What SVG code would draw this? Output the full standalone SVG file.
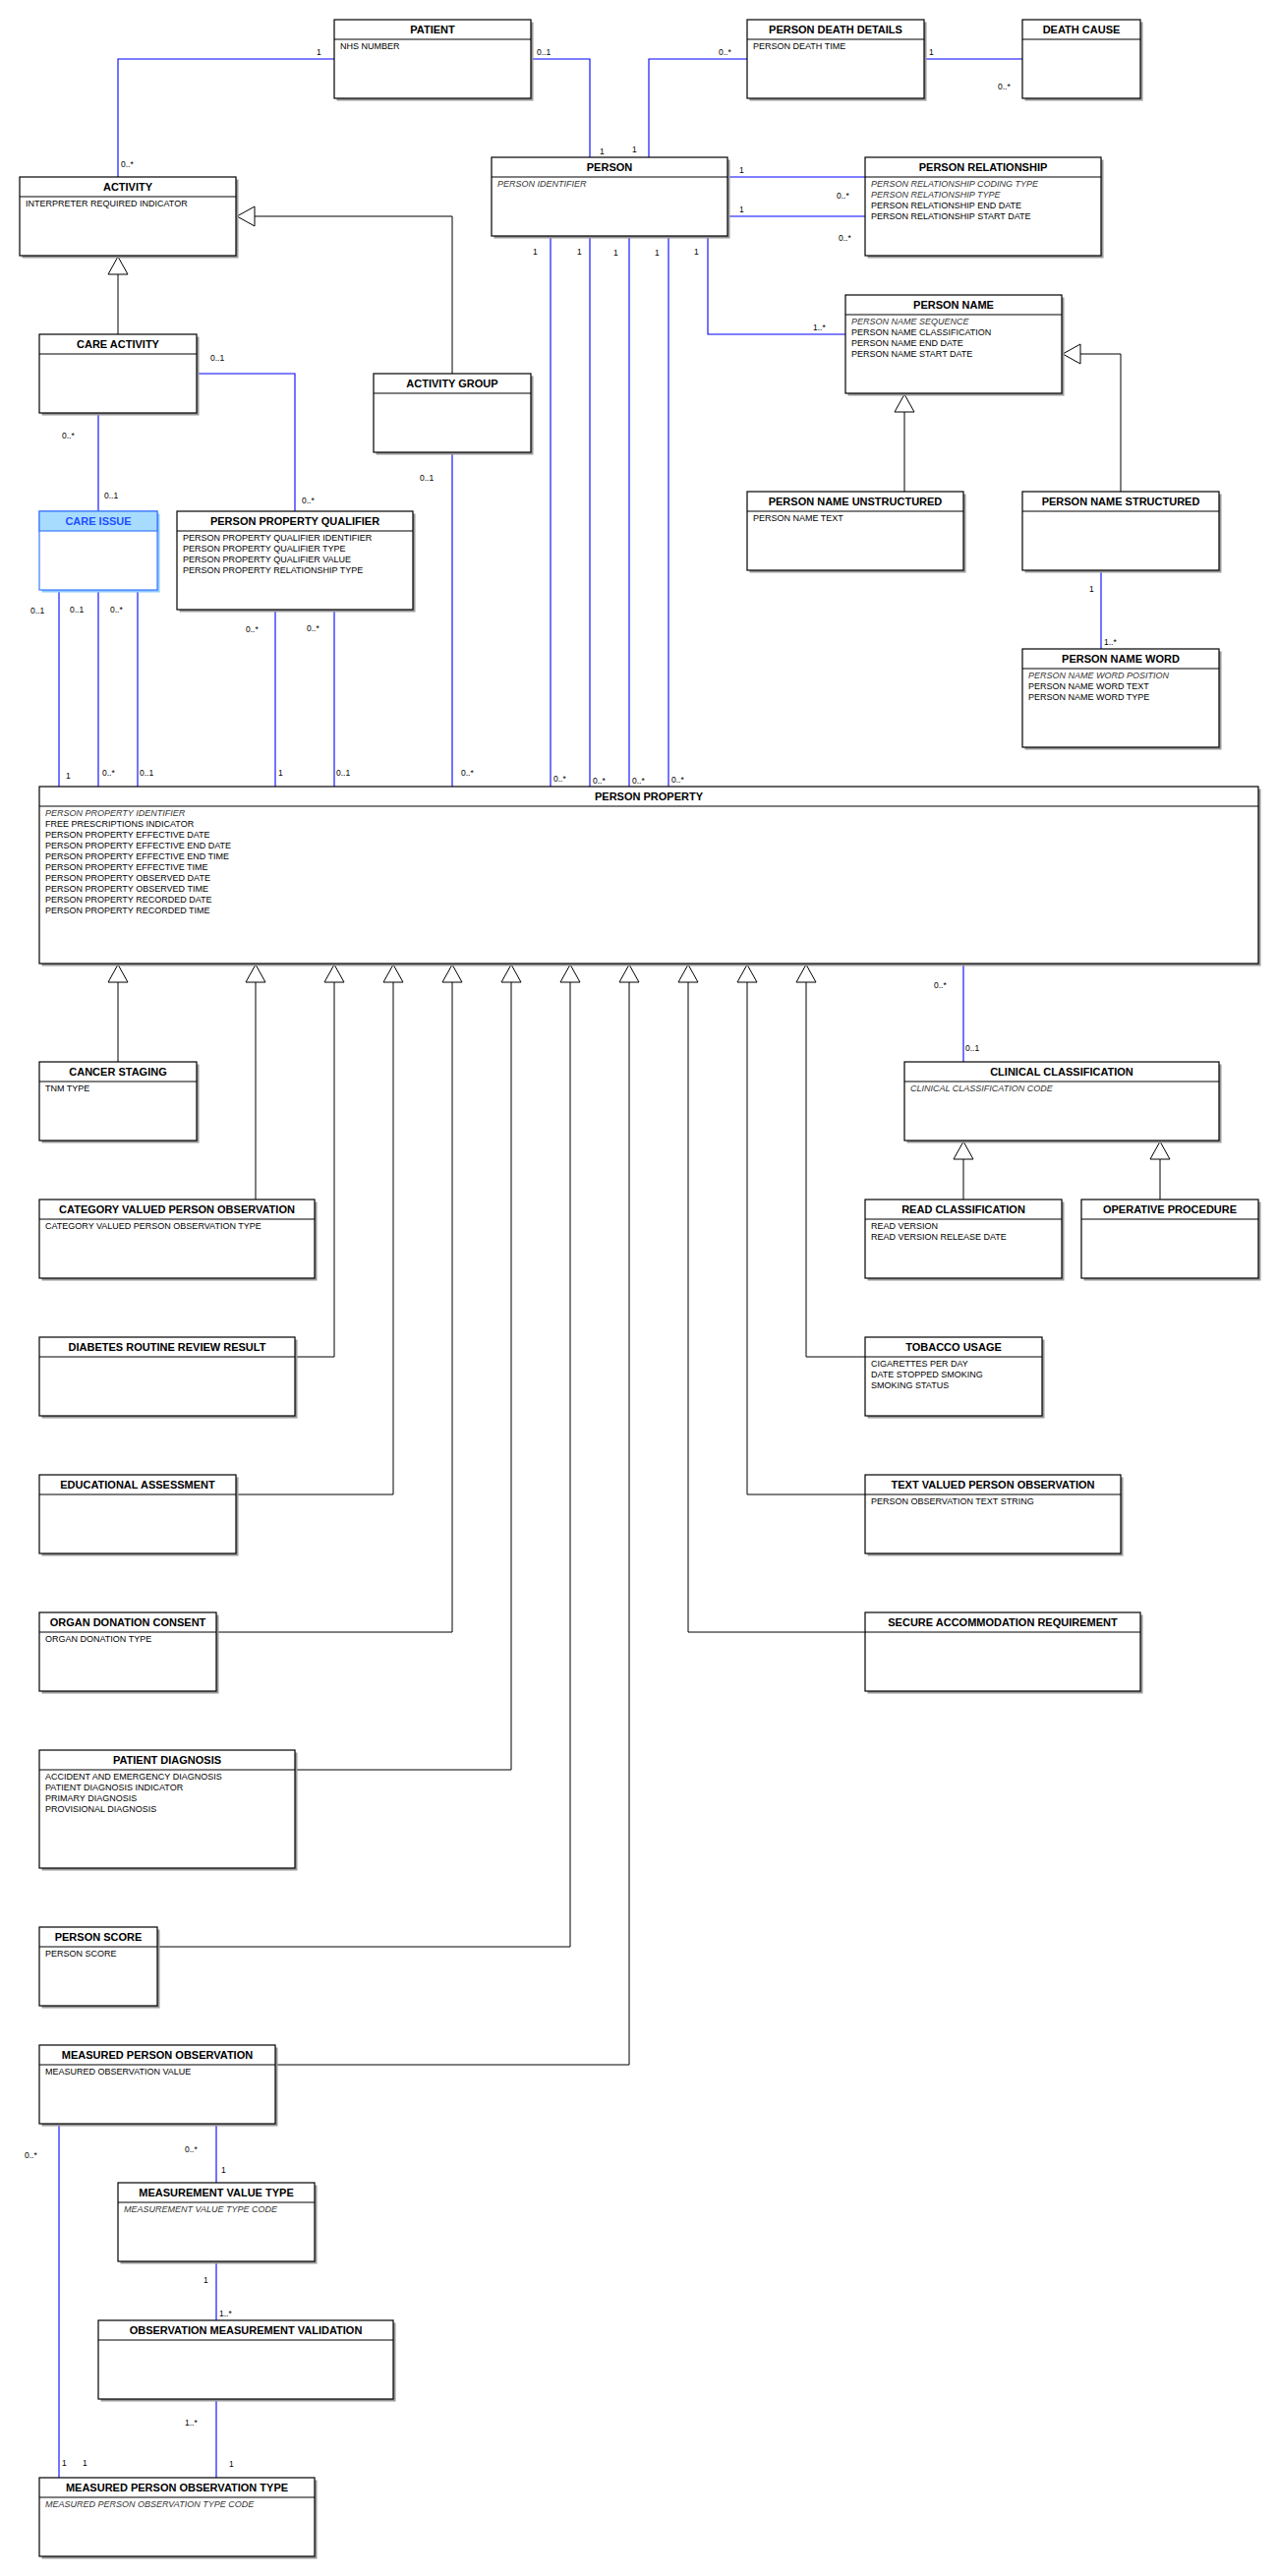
<svg xmlns="http://www.w3.org/2000/svg" width="1300" height="2620" viewBox="0 0 1300 2620">
<style>
  text { font-family: "Liberation Sans", Arial, sans-serif; }
  .sh { fill: #9a9a9a; stroke: none; }
  .bx { fill: #ffffff; stroke: #000000; stroke-width: 1.2; }
  .dv { stroke: #000000; stroke-width: 1.2; }
  .t { font-size: 11px; font-weight: bold; text-anchor: middle; fill: #000; }
  .a { font-size: 9px; fill: #000; }
  .i { font-style: italic; fill: #333; }
  .assoc { stroke: #0000ff; stroke-width: 1.1; fill: none; }
  .gen { stroke: #000; stroke-width: 1; fill: none; marker-end: url(#tri); }
  .lbl { font-size: 8.5px; fill: #000; }
  .ci .sh { fill: #8cc8ff; }
  .ci .bx { fill: #ffffff; stroke: #3a78ff; }
  .ci .hd { fill: #a8dcff; stroke: #3a78ff; stroke-width: 1.2; }
  .ci .t { fill: #1e50ff; }
</style>
<defs>
  <marker id="tri" markerUnits="userSpaceOnUse" markerWidth="22" markerHeight="24" viewBox="-1 -11 22 22" refX="19" refY="0" orient="auto">
    <path d="M1,-10 L19,0 L1,10 Z" fill="#fff" stroke="#000" stroke-width="1"/>
  </marker>
</defs>
<rect x="0" y="0" width="1300" height="2620" fill="#ffffff"/>

<g id="connectors">
  <!-- associations -->
  <path class="assoc" d="M340,60 H120 V180"/>
  <path class="assoc" d="M541,60 H600 V160"/>
  <path class="assoc" d="M660,160 V60 H760"/>
  <path class="assoc" d="M941,60 H1040"/>
  <path class="assoc" d="M741,180 H880"/>
  <path class="assoc" d="M741,220 H880"/>
  <path class="assoc" d="M720,241 V340 H860"/>
  <path class="assoc" d="M560,241 V800"/>
  <path class="assoc" d="M600,241 V800"/>
  <path class="assoc" d="M640,241 V800"/>
  <path class="assoc" d="M680,241 V800"/>
  <path class="assoc" d="M100,421 V520"/>
  <path class="assoc" d="M201,380 H300 V520"/>
  <path class="assoc" d="M460,461 V800"/>
  <path class="assoc" d="M60,601 V800"/>
  <path class="assoc" d="M100,601 V800"/>
  <path class="assoc" d="M140,601 V800"/>
  <path class="assoc" d="M280,621 V800"/>
  <path class="assoc" d="M340,621 V800"/>
  <path class="assoc" d="M1120,581 V660"/>
  <path class="assoc" d="M980,981 V1080"/>
  <path class="assoc" d="M220,2161 V2220"/>
  <path class="assoc" d="M220,2301 V2360"/>
  <path class="assoc" d="M220,2441 V2520"/>
  <path class="assoc" d="M60,2161 V2520"/>
  <!-- generalizations -->
  <path class="gen" d="M460,380 V220 H241"/>
  <path class="gen" d="M120,340 V261"/>
  <path class="gen" d="M920,500 V401"/>
  <path class="gen" d="M1140,500 V360 H1081"/>
  <path class="gen" d="M120,1080 V981"/>
  <path class="gen" d="M260,1220 V981"/>
  <path class="gen" d="M300,1380 H340 V981"/>
  <path class="gen" d="M240,1520 H400 V981"/>
  <path class="gen" d="M220,1660 H460 V981"/>
  <path class="gen" d="M300,1800 H520 V981"/>
  <path class="gen" d="M160,1980 H580 V981"/>
  <path class="gen" d="M280,2100 H640 V981"/>
  <path class="gen" d="M880,1660 H700 V981"/>
  <path class="gen" d="M880,1520 H760 V981"/>
  <path class="gen" d="M880,1380 H820 V981"/>
  <path class="gen" d="M980,1220 V1161"/>
  <path class="gen" d="M1180,1220 V1161"/>
  <!-- multiplicities -->
  <text class="lbl" x="322" y="56">1</text>
  <text class="lbl" x="123" y="170">0..*</text>
  <text class="lbl" x="546" y="56">0..1</text>
  <text class="lbl" x="610" y="157">1</text>
  <text class="lbl" x="643" y="155">1</text>
  <text class="lbl" x="731" y="56">0..*</text>
  <text class="lbl" x="945" y="56">1</text>
  <text class="lbl" x="1015" y="91">0..*</text>
  <text class="lbl" x="752" y="176">1</text>
  <text class="lbl" x="851" y="202">0..*</text>
  <text class="lbl" x="752" y="216">1</text>
  <text class="lbl" x="853" y="245">0..*</text>
  <text class="lbl" x="706" y="259">1</text>
  <text class="lbl" x="827" y="336">1..*</text>
  <text class="lbl" x="542" y="259">1</text>
  <text class="lbl" x="587" y="259">1</text>
  <text class="lbl" x="624" y="260">1</text>
  <text class="lbl" x="666" y="260">1</text>
  <text class="lbl" x="563" y="795">0..*</text>
  <text class="lbl" x="603" y="797">0..*</text>
  <text class="lbl" x="643" y="797">0..*</text>
  <text class="lbl" x="683" y="796">0..*</text>
  <text class="lbl" x="63" y="446">0..*</text>
  <text class="lbl" x="106" y="507">0..1</text>
  <text class="lbl" x="214" y="367">0..1</text>
  <text class="lbl" x="307" y="512">0..*</text>
  <text class="lbl" x="427" y="489">0..1</text>
  <text class="lbl" x="469" y="789">0..*</text>
  <text class="lbl" x="31" y="624">0..1</text>
  <text class="lbl" x="71" y="623">0..1</text>
  <text class="lbl" x="112" y="623">0..*</text>
  <text class="lbl" x="67" y="792">1</text>
  <text class="lbl" x="104" y="789">0..*</text>
  <text class="lbl" x="142" y="789">0..1</text>
  <text class="lbl" x="250" y="643">0..*</text>
  <text class="lbl" x="312" y="642">0..*</text>
  <text class="lbl" x="283" y="789">1</text>
  <text class="lbl" x="342" y="789">0..1</text>
  <text class="lbl" x="1108" y="602">1</text>
  <text class="lbl" x="1123" y="656">1..*</text>
  <text class="lbl" x="950" y="1005">0..*</text>
  <text class="lbl" x="982" y="1069">0..1</text>
  <text class="lbl" x="188" y="2189">0..*</text>
  <text class="lbl" x="225" y="2210">1</text>
  <text class="lbl" x="207" y="2322">1</text>
  <text class="lbl" x="223" y="2356">1..*</text>
  <text class="lbl" x="188" y="2467">1..*</text>
  <text class="lbl" x="233" y="2509">1</text>
  <text class="lbl" x="25" y="2195">0..*</text>
  <text class="lbl" x="63" y="2508">1</text>
  <text class="lbl" x="84" y="2508">1</text>
</g>

<g id="patient"><rect class="sh" x="342.5" y="22.5" width="200" height="80"/><rect class="bx" x="340" y="20" width="200" height="80"/><line class="dv" x1="340" y1="40" x2="540" y2="40"/><text class="t" x="440" y="34">PATIENT</text><text class="a" x="346" y="50">NHS NUMBER</text></g>

<g id="person-death-details"><rect class="sh" x="762.5" y="22.5" width="180" height="80"/><rect class="bx" x="760" y="20" width="180" height="80"/><line class="dv" x1="760" y1="40" x2="940" y2="40"/><text class="t" x="850" y="34">PERSON DEATH DETAILS</text><text class="a" x="766" y="50">PERSON DEATH TIME</text></g>

<g id="death-cause"><rect class="sh" x="1042.5" y="22.5" width="120" height="80"/><rect class="bx" x="1040" y="20" width="120" height="80"/><line class="dv" x1="1040" y1="40" x2="1160" y2="40"/><text class="t" x="1100" y="34">DEATH CAUSE</text></g>

<g id="activity"><rect class="sh" x="22.5" y="182.5" width="220" height="80"/><rect class="bx" x="20" y="180" width="220" height="80"/><line class="dv" x1="20" y1="200" x2="240" y2="200"/><text class="t" x="130" y="194">ACTIVITY</text><text class="a" x="26" y="210">INTERPRETER REQUIRED INDICATOR</text></g>

<g id="person"><rect class="sh" x="502.5" y="162.5" width="240" height="80"/><rect class="bx" x="500" y="160" width="240" height="80"/><line class="dv" x1="500" y1="180" x2="740" y2="180"/><text class="t" x="620" y="174">PERSON</text><text class="a i" x="506" y="190">PERSON IDENTIFIER</text></g>

<g id="person-relationship"><rect class="sh" x="882.5" y="162.5" width="240" height="100"/><rect class="bx" x="880" y="160" width="240" height="100"/><line class="dv" x1="880" y1="180" x2="1120" y2="180"/><text class="t" x="1000" y="174">PERSON RELATIONSHIP</text><text class="a i" x="886" y="190">PERSON RELATIONSHIP CODING TYPE</text><text class="a i" x="886" y="201">PERSON RELATIONSHIP TYPE</text><text class="a" x="886" y="212">PERSON RELATIONSHIP END DATE</text><text class="a" x="886" y="223">PERSON RELATIONSHIP START DATE</text></g>

<g id="care-activity"><rect class="sh" x="42.5" y="342.5" width="160" height="80"/><rect class="bx" x="40" y="340" width="160" height="80"/><line class="dv" x1="40" y1="360" x2="200" y2="360"/><text class="t" x="120" y="354">CARE ACTIVITY</text></g>

<g id="activity-group"><rect class="sh" x="382.5" y="382.5" width="160" height="80"/><rect class="bx" x="380" y="380" width="160" height="80"/><line class="dv" x1="380" y1="400" x2="540" y2="400"/><text class="t" x="460" y="394">ACTIVITY GROUP</text></g>

<g id="person-name"><rect class="sh" x="862.5" y="302.5" width="220" height="100"/><rect class="bx" x="860" y="300" width="220" height="100"/><line class="dv" x1="860" y1="320" x2="1080" y2="320"/><text class="t" x="970" y="314">PERSON NAME</text><text class="a i" x="866" y="330">PERSON NAME SEQUENCE</text><text class="a" x="866" y="341">PERSON NAME CLASSIFICATION</text><text class="a" x="866" y="352">PERSON NAME END DATE</text><text class="a" x="866" y="363">PERSON NAME START DATE</text></g>

<g id="person-name-unstructured"><rect class="sh" x="762.5" y="502.5" width="220" height="80"/><rect class="bx" x="760" y="500" width="220" height="80"/><line class="dv" x1="760" y1="520" x2="980" y2="520"/><text class="t" x="870" y="514">PERSON NAME UNSTRUCTURED</text><text class="a" x="766" y="530">PERSON NAME TEXT</text></g>

<g id="person-name-structured"><rect class="sh" x="1042.5" y="502.5" width="200" height="80"/><rect class="bx" x="1040" y="500" width="200" height="80"/><line class="dv" x1="1040" y1="520" x2="1240" y2="520"/><text class="t" x="1140" y="514">PERSON NAME STRUCTURED</text></g>

<g id="person-name-word"><rect class="sh" x="1042.5" y="662.5" width="200" height="100"/><rect class="bx" x="1040" y="660" width="200" height="100"/><line class="dv" x1="1040" y1="680" x2="1240" y2="680"/><text class="t" x="1140" y="674">PERSON NAME WORD</text><text class="a i" x="1046" y="690">PERSON NAME WORD POSITION</text><text class="a" x="1046" y="701">PERSON NAME WORD TEXT</text><text class="a" x="1046" y="712">PERSON NAME WORD TYPE</text></g>

<g id="care-issue" class="ci"><rect class="sh" x="42.5" y="522.5" width="120" height="80"/><rect class="bx" x="40" y="520" width="120" height="80"/><rect class="hd" x="40" y="520" width="120" height="20"/><text class="t" x="100" y="534">CARE ISSUE</text></g>

<g id="person-property-qualifier"><rect class="sh" x="182.5" y="522.5" width="240" height="100"/><rect class="bx" x="180" y="520" width="240" height="100"/><line class="dv" x1="180" y1="540" x2="420" y2="540"/><text class="t" x="300" y="534">PERSON PROPERTY QUALIFIER</text><text class="a" x="186" y="550">PERSON PROPERTY QUALIFIER IDENTIFIER</text><text class="a" x="186" y="561">PERSON PROPERTY QUALIFIER TYPE</text><text class="a" x="186" y="572">PERSON PROPERTY QUALIFIER VALUE</text><text class="a" x="186" y="583">PERSON PROPERTY RELATIONSHIP TYPE</text></g>

<g id="person-property"><rect class="sh" x="42.5" y="802.5" width="1240" height="180"/><rect class="bx" x="40" y="800" width="1240" height="180"/><line class="dv" x1="40" y1="820" x2="1280" y2="820"/><text class="t" x="660" y="814">PERSON PROPERTY</text>
<text class="a i" x="46" y="830">PERSON PROPERTY IDENTIFIER</text>
<text class="a" x="46" y="841">FREE PRESCRIPTIONS INDICATOR</text>
<text class="a" x="46" y="852">PERSON PROPERTY EFFECTIVE DATE</text>
<text class="a" x="46" y="863">PERSON PROPERTY EFFECTIVE END DATE</text>
<text class="a" x="46" y="874">PERSON PROPERTY EFFECTIVE END TIME</text>
<text class="a" x="46" y="885">PERSON PROPERTY EFFECTIVE TIME</text>
<text class="a" x="46" y="896">PERSON PROPERTY OBSERVED DATE</text>
<text class="a" x="46" y="907">PERSON PROPERTY OBSERVED TIME</text>
<text class="a" x="46" y="918">PERSON PROPERTY RECORDED DATE</text>
<text class="a" x="46" y="929">PERSON PROPERTY RECORDED TIME</text></g>

<g id="cancer-staging"><rect class="sh" x="42.5" y="1082.5" width="160" height="80"/><rect class="bx" x="40" y="1080" width="160" height="80"/><line class="dv" x1="40" y1="1100" x2="200" y2="1100"/><text class="t" x="120" y="1094">CANCER STAGING</text><text class="a" x="46" y="1110">TNM TYPE</text></g>

<g id="clinical-classification"><rect class="sh" x="922.5" y="1082.5" width="320" height="80"/><rect class="bx" x="920" y="1080" width="320" height="80"/><line class="dv" x1="920" y1="1100" x2="1240" y2="1100"/><text class="t" x="1080" y="1094">CLINICAL CLASSIFICATION</text><text class="a i" x="926" y="1110">CLINICAL CLASSIFICATION CODE</text></g>

<g id="category-valued-person-observation"><rect class="sh" x="42.5" y="1222.5" width="280" height="80"/><rect class="bx" x="40" y="1220" width="280" height="80"/><line class="dv" x1="40" y1="1240" x2="320" y2="1240"/><text class="t" x="180" y="1234">CATEGORY VALUED PERSON OBSERVATION</text><text class="a" x="46" y="1250">CATEGORY VALUED PERSON OBSERVATION TYPE</text></g>

<g id="read-classification"><rect class="sh" x="882.5" y="1222.5" width="200" height="80"/><rect class="bx" x="880" y="1220" width="200" height="80"/><line class="dv" x1="880" y1="1240" x2="1080" y2="1240"/><text class="t" x="980" y="1234">READ CLASSIFICATION</text><text class="a" x="886" y="1250">READ VERSION</text><text class="a" x="886" y="1261">READ VERSION RELEASE DATE</text></g>

<g id="operative-procedure"><rect class="sh" x="1102.5" y="1222.5" width="180" height="80"/><rect class="bx" x="1100" y="1220" width="180" height="80"/><line class="dv" x1="1100" y1="1240" x2="1280" y2="1240"/><text class="t" x="1190" y="1234">OPERATIVE PROCEDURE</text></g>

<g id="diabetes-routine-review-result"><rect class="sh" x="42.5" y="1362.5" width="260" height="80"/><rect class="bx" x="40" y="1360" width="260" height="80"/><line class="dv" x1="40" y1="1380" x2="300" y2="1380"/><text class="t" x="170" y="1374">DIABETES ROUTINE REVIEW RESULT</text></g>

<g id="tobacco-usage"><rect class="sh" x="882.5" y="1362.5" width="180" height="80"/><rect class="bx" x="880" y="1360" width="180" height="80"/><line class="dv" x1="880" y1="1380" x2="1060" y2="1380"/><text class="t" x="970" y="1374">TOBACCO USAGE</text><text class="a" x="886" y="1390">CIGARETTES PER DAY</text><text class="a" x="886" y="1401">DATE STOPPED SMOKING</text><text class="a" x="886" y="1412">SMOKING STATUS</text></g>

<g id="educational-assessment"><rect class="sh" x="42.5" y="1502.5" width="200" height="80"/><rect class="bx" x="40" y="1500" width="200" height="80"/><line class="dv" x1="40" y1="1520" x2="240" y2="1520"/><text class="t" x="140" y="1514">EDUCATIONAL ASSESSMENT</text></g>

<g id="text-valued-person-observation"><rect class="sh" x="882.5" y="1502.5" width="260" height="80"/><rect class="bx" x="880" y="1500" width="260" height="80"/><line class="dv" x1="880" y1="1520" x2="1140" y2="1520"/><text class="t" x="1010" y="1514">TEXT VALUED PERSON OBSERVATION</text><text class="a" x="886" y="1530">PERSON OBSERVATION TEXT STRING</text></g>

<g id="organ-donation-consent"><rect class="sh" x="42.5" y="1642.5" width="180" height="80"/><rect class="bx" x="40" y="1640" width="180" height="80"/><line class="dv" x1="40" y1="1660" x2="220" y2="1660"/><text class="t" x="130" y="1654">ORGAN DONATION CONSENT</text><text class="a" x="46" y="1670">ORGAN DONATION TYPE</text></g>

<g id="secure-accommodation-requirement"><rect class="sh" x="882.5" y="1642.5" width="280" height="80"/><rect class="bx" x="880" y="1640" width="280" height="80"/><line class="dv" x1="880" y1="1660" x2="1160" y2="1660"/><text class="t" x="1020" y="1654">SECURE ACCOMMODATION REQUIREMENT</text></g>

<g id="patient-diagnosis"><rect class="sh" x="42.5" y="1782.5" width="260" height="120"/><rect class="bx" x="40" y="1780" width="260" height="120"/><line class="dv" x1="40" y1="1800" x2="300" y2="1800"/><text class="t" x="170" y="1794">PATIENT DIAGNOSIS</text><text class="a" x="46" y="1810">ACCIDENT AND EMERGENCY DIAGNOSIS</text><text class="a" x="46" y="1821">PATIENT DIAGNOSIS INDICATOR</text><text class="a" x="46" y="1832">PRIMARY DIAGNOSIS</text><text class="a" x="46" y="1843">PROVISIONAL DIAGNOSIS</text></g>

<g id="person-score"><rect class="sh" x="42.5" y="1962.5" width="120" height="80"/><rect class="bx" x="40" y="1960" width="120" height="80"/><line class="dv" x1="40" y1="1980" x2="160" y2="1980"/><text class="t" x="100" y="1974">PERSON SCORE</text><text class="a" x="46" y="1990">PERSON SCORE</text></g>

<g id="measured-person-observation"><rect class="sh" x="42.5" y="2082.5" width="240" height="80"/><rect class="bx" x="40" y="2080" width="240" height="80"/><line class="dv" x1="40" y1="2100" x2="280" y2="2100"/><text class="t" x="160" y="2094">MEASURED PERSON OBSERVATION</text><text class="a" x="46" y="2110">MEASURED OBSERVATION VALUE</text></g>

<g id="measurement-value-type"><rect class="sh" x="122.5" y="2222.5" width="200" height="80"/><rect class="bx" x="120" y="2220" width="200" height="80"/><line class="dv" x1="120" y1="2240" x2="320" y2="2240"/><text class="t" x="220" y="2234">MEASUREMENT VALUE TYPE</text><text class="a i" x="126" y="2250">MEASUREMENT VALUE TYPE CODE</text></g>

<g id="observation-measurement-validation"><rect class="sh" x="102.5" y="2362.5" width="300" height="80"/><rect class="bx" x="100" y="2360" width="300" height="80"/><line class="dv" x1="100" y1="2380" x2="400" y2="2380"/><text class="t" x="250" y="2374">OBSERVATION MEASUREMENT VALIDATION</text></g>

<g id="measured-person-observation-type"><rect class="sh" x="42.5" y="2522.5" width="280" height="80"/><rect class="bx" x="40" y="2520" width="280" height="80"/><line class="dv" x1="40" y1="2540" x2="320" y2="2540"/><text class="t" x="180" y="2534">MEASURED PERSON OBSERVATION TYPE</text><text class="a i" x="46" y="2550">MEASURED PERSON OBSERVATION TYPE CODE</text></g>
</svg>
